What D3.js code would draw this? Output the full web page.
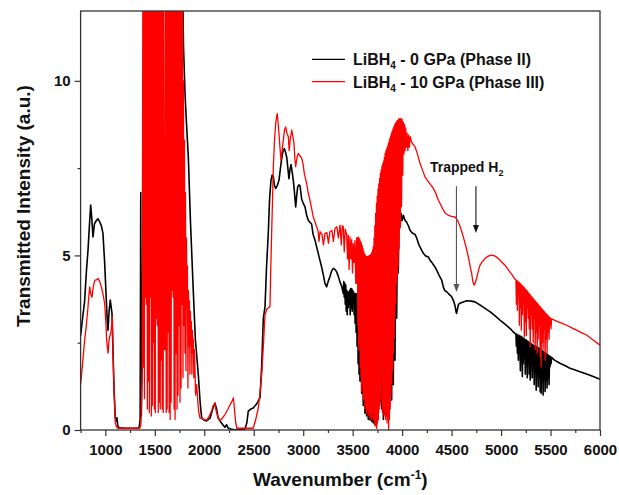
<!DOCTYPE html>
<html>
<head>
<meta charset="utf-8">
<script src="https://cdn.jsdelivr.net/npm/d3@7"></script>
<style>
  body { margin: 0; background: #fff; }
  text { font-family: "Liberation Sans", Arial, sans-serif; font-weight: bold; }
</style>
</head>
<body>
<div id="chart"></div>
<script>
// axis ticks
const xTicks = [1000, 1500, 2000, 2500, 3000, 3500, 4000, 4500, 5000, 5500, 6000];
const xMinor = [750, 1250, 1750, 2250, 2750, 3250, 3750, 4250, 4750, 5250, 5750];
const yTicks = [0, 5, 10];
const yMinor = [2.5, 7.5];

// LiBH4 - 0 GPa (Phase II), [wavenumber, intensity]
const phase2 = [
  [750,2.7],[770,3.2],[791,3.7],[810,4.6],[825,5.15],[840,5.9],[852,6.44],[862,6.1],[875,5.53],[890,5.9],
  [909,6.0],[925,6.05],[943,5.96],[960,5.85],[976,5.63],[993,4.8],[1010,3.72],[1020,3.1],[1027,2.86],[1038,3.4],
  [1050,3.72],[1060,3.5],[1067,3.35],[1078,2.2],[1088,1.14],[1101,0.34],[1110,0.25],[1118,0.35],[1126,0.12],[1140,0.06],
  [1200,0.05],[1300,0.05],[1340,0.05],[1352,0.3],[1358,6.8],[1364,0.4],[1372,2.0],[1384,8],[1395,14],[1775,14],
  [1790,11],[1806,9.6],[1820,8.8],[1839,7.8],[1860,6.0],[1889,3.98],[1910,2.6],[1940,1.58],[1958,0.8],[1974,0.34],
  [2000,0.28],[2024,0.26],[2060,0.35],[2085,0.6],[2108,0.77],[2125,0.6],[2140,0.35],[2159,0.26],[2190,0.14],[2210,0.08],
  [2226,0.15],[2240,0.06],[2270,0.03],[2310,0.0],[2360,0.02],[2410,0.02],[2430,0.2],[2445,0.54],[2470,0.6],[2495,0.63],
  [2530,0.75],[2563,0.92],[2580,1.8],[2597,3.2],[2614,3.53],[2630,4.7],[2647,5.63],[2660,6.6],[2674,7.15],[2686,7.3],
  [2698,7.25],[2710,7.0],[2722,6.92],[2738,7.0],[2755,7.15],[2770,7.5],[2783,7.78],[2797,8.0],[2809,8.06],[2822,7.95],
  [2833,7.82],[2845,7.5],[2856,7.2],[2866,7.45],[2877,7.6],[2888,7.4],[2900,7.15],[2912,6.8],[2924,6.39],[2934,6.7],
  [2944,6.96],[2956,7.02],[2968,7.0],[2985,6.6],[3000,6.5],[3018,6.39],[3035,6.15],[3051,6.01],[3068,5.95],[3085,5.9],
  [3100,5.6],[3119,5.44],[3135,5.25],[3152,5.06],[3170,4.85],[3186,4.67],[3203,4.45],[3220,4.2],[3237,4.1],[3252,4.25],
  [3270,4.39],[3287,4.55],[3304,4.63],[3320,4.6],[3338,4.53],[3355,4.4],[3372,4.24],[3390,4.1],
  [3405,3.91],[3410,4.25],[3415,3.8],[3420,4.2],[3425,3.6],[3430,4.15],[3435,3.4],[3440,4.0],[3445,3.3],[3450,3.95],
  [3455,3.5],[3460,3.95],[3465,3.6],[3470,4.0],[3475,3.3],[3480,4.05],[3485,3.5],[3490,4.05],[3495,3.4],[3500,4.0],
  [3505,3.6],[3510,3.95],[3515,3.3],[3520,3.9],[3525,3.06],[3530,3.9],[3535,2.8],[3540,3.9],[3545,2.4],[3550,3.85],
  [3555,1.9],[3560,3.8],[3565,1.6],[3570,3.8],[3574,1.4],[3582,3.7],
  [3591,1.05],[3599,3.6],[3607,0.7],[3615,3.5],[3624,0.48],[3632,3.5],[3641,0.4],[3649,3.5],[3658,0.3],[3666,3.5],
  [3675,0.29],[3683,3.5],[3692,0.25],[3700,3.5],[3708,0.2],[3716,3.5],[3725,0.14],[3733,3.6],[3742,0.3],[3750,3.8],
  [3760,0.5],[3768,4.0],[3776,0.8],[3785,4.2],[3793,0.6],[3801,4.4],[3810,0.3],[3818,4.6],[3826,0.45],[3835,4.8],
  [3843,0.6],[3851,5.0],[3860,0.9],[3868,5.2],[3877,1.0],[3885,5.4],[3894,0.86],[3902,5.6],[3911,1.3],[3919,5.8],
  [3928,2.0],[3936,6.0],[3945,3.2],[3953,6.3],[3961,4.5],[3970,6.35],[3978,5.8],[3990,6.2],[4000,6.0],[4012,6.15],
  [4029,6.01],[4046,5.95],[4063,5.85],[4080,5.72],[4100,5.65],[4130,5.6],[4147,5.5],[4170,5.3],[4197,5.15],[4214,5.06],
  [4240,4.98],[4264,4.96],[4281,4.87],[4300,4.8],[4332,4.67],[4349,4.58],[4370,4.45],[4400,4.29],[4416,4.1],[4430,4.0],
  [4450,3.96],[4470,3.9],[4500,3.82],[4520,3.7],[4535,3.55],[4545,3.38],[4551,3.34],[4558,3.45],[4570,3.6],[4584,3.63],
  [4610,3.66],[4652,3.7],[4700,3.69],[4736,3.67],[4787,3.58],[4820,3.52],[4860,3.44],[4888,3.39],[4940,3.27],[4988,3.15],
  [5040,3.03],[5089,2.91],[5120,2.82],[5140,2.77],
  [5150,2.75],[5155,2.4],[5160,2.74],[5165,2.2],[5170,2.72],[5175,2.0],[5180,2.71],[5185,2.3],[5190,2.69],[5195,1.7],
  [5200,2.68],[5205,2.1],[5210,2.66],[5215,1.53],[5220,2.64],[5225,1.9],[5230,2.62],[5235,2.2],[5240,2.6],[5245,1.6],
  [5250,2.58],[5255,1.9],[5260,2.56],[5265,1.5],[5270,2.54],[5275,2.0],[5280,2.52],[5285,1.6],[5290,2.5],[5295,1.43],
  [5300,2.48],[5305,1.9],[5310,2.46],[5315,1.5],[5320,2.44],[5325,1.8],[5330,2.42],[5335,1.3],[5340,2.41],[5345,1.7],
  [5350,2.39],[5355,1.14],[5360,2.38],[5365,1.6],[5370,2.36],[5375,1.24],[5380,2.35],[5385,1.5],[5390,2.33],[5395,1.1],
  [5400,2.32],[5405,1.05],[5410,2.29],[5415,1.4],[5420,2.27],[5425,1.0],[5430,2.24],[5435,1.5],[5440,2.22],[5445,1.1],
  [5450,2.2],[5455,1.43],[5460,2.18],[5465,1.2],[5470,2.16],[5475,1.5],[5480,2.14],[5485,1.3],[5490,2.12],[5495,1.81],
  [5500,2.1],[5505,1.9],[5510,2.08],
  [5540,2.0],[5595,1.91],[5650,1.84],[5696,1.77],[5750,1.72],[5797,1.67],[5850,1.62],[5898,1.57],[5950,1.51],[6000,1.45]
];

// LiBH4 - 10 GPa (Phase III)
const phase3 = [
  [750,1.3],[770,1.9],[791,2.58],[808,3.0],[825,3.53],[835,3.9],[842,4.1],[852,3.9],[865,3.8],[878,4.1],
  [893,4.29],[910,4.3],[926,4.34],[943,4.25],[960,4.1],[976,3.9],[993,3.63],[1005,3.1],[1013,2.6],[1020,2.38],
  [1028,2.2],[1036,2.55],[1044,2.67],[1052,2.75],[1060,2.86],[1066,3.1],[1071,3.24],[1078,2.2],[1088,1.14],[1101,0.2],
  [1115,0.08],[1128,0.05],[1250,0.05],[1347,0.05],[1360,0.15],[1372,1.8],
  [1380,14],[1385,1.8],[1390,14],[1395,0.9],[1400,14],[1405,3.8],[1410,14],[1415,3.6],[1420,14],[1425,0.6],
  [1430,14],[1435,1.4],[1440,14],[1445,0.5],[1450,14],[1455,3.8],[1460,14],[1465,0.4],[1470,14],[1475,0.7],
  [1480,14],[1485,2.5],[1490,14],[1495,0.6],[1500,14],[1505,0.5],[1510,14],[1515,3.2],[1520,14],[1525,3.0],
  [1530,14],[1535,0.5],[1540,14],[1545,0.8],[1550,14],[1555,0.6],[1560,14],[1565,2.0],[1570,14],[1575,0.6],
  [1580,14],[1585,0.5],[1590,14],[1596,2.3],[1603,2.3],[1609,14],[1615,0.5],[1620,14],[1625,0.6],[1630,14],
  [1635,2.8],[1640,14],[1645,0.5],[1650,14],[1655,0.3],[1660,14],[1665,0.8],[1670,14],[1675,4.0],[1680,14],
  [1685,3.8],[1690,14],[1695,0.6],[1700,14],[1705,0.3],[1710,14],[1715,2.2],[1720,14],[1725,0.6],[1730,14],
  [1735,1.0],[1740,14],[1745,3.0],[1750,14],[1755,0.8],[1760,14],[1765,1.2],[1770,14],[1775,3.6],[1780,12.5],
  [1785,1.5],[1790,10.0],[1795,3.0],[1800,8.3],[1805,2.2],[1810,6.8],[1815,1.7],[1820,5.5],[1825,3.5],[1830,4.7],
  [1835,1.2],[1840,4.0],[1845,2.4],[1850,3.7],[1855,1.6],[1860,3.4],[1865,2.4],[1870,3.1],[1875,1.6],[1880,2.85],
  [1885,2.2],[1890,2.6],[1895,1.5],[1900,2.3],
  [1905,1.9],[1912,1.0],[1923,1.3],[1935,0.8],[1945,0.5],[1957,0.34],[1975,0.35],[1995,0.3],[2024,0.28],[2050,0.4],
  [2075,0.55],[2090,0.7],[2108,0.77],[2120,0.55],[2140,0.35],[2159,0.26],[2185,0.35],[2210,0.45],[2240,0.6],[2265,0.75],
  [2285,0.85],[2294,0.92],[2305,0.6],[2318,0.2],[2330,0.05],[2400,0.05],[2495,0.05],[2520,0.3],[2546,0.63],[2565,1.1],
  [2580,1.58],[2597,2.4],[2614,3.3],[2630,3.45],[2648,3.5],[2664,3.53],[2672,4.6],[2681,5.63],[2690,6.6],[2698,7.54],
  [2710,8.3],[2722,8.78],[2730,8.95],[2738,9.06],[2746,8.8],[2755,8.5],[2765,8.1],[2775,7.73],[2787,8.0],[2799,8.3],
  [2811,8.6],[2823,8.68],[2836,8.5],[2850,8.39],[2858,8.0],[2868,8.3],[2884,8.59],[2896,8.4],[2907,8.2],[2915,7.8],
  [2924,7.54],[2937,7.8],[2950,7.92],[2968,7.85],[2985,7.78],[3000,7.6],[3011,7.35],[3023,7.2],[3035,7.06],[3050,6.8],
  [3068,6.58],[3085,6.35],[3102,6.1],[3120,5.95],[3136,5.82],[3150,5.7],[3160,5.4],[3170,5.68],[3190,5.6],[3205,5.3],
  [3220,5.63],[3240,5.65],[3255,5.35],[3270,5.68],[3290,5.72],[3305,5.4],[3321,5.77],[3340,5.82],[3355,5.5],[3372,5.87],
  [3385,5.3],[3395,5.85],[3405,5.82],[3415,5.1],[3425,5.75],[3439,5.6],[3448,4.9],[3456,5.58],[3464,4.6],[3473,5.53],
  [3481,4.9],[3490,5.45],[3498,4.5],[3506,5.34],[3514,4.8],[3523,5.42],[3531,4.2],
  [3540,5.5],[3544,4.2],[3548,5.5],[3552,3.0],[3556,5.52],[3560,2.3],[3564,5.5],[3568,2.5],[3572,5.45],[3576,1.8],
  [3580,5.4],[3584,1.5],[3588,5.35],[3592,1.1],[3596,5.28],[3600,1.3],[3604,5.2],[3608,0.86],[3612,5.12],[3616,0.9],
  [3620,5.04],[3624,0.6],[3628,5.0],[3632,0.7],[3636,4.97],[3640,0.48],[3644,4.97],[3648,0.6],[3652,4.97],[3656,0.4],
  [3660,4.98],[3664,0.5],[3668,4.99],[3672,0.35],[3676,5.0],[3680,0.5],[3684,5.03],[3688,0.3],[3692,5.08],[3696,0.4],
  [3700,5.15],[3704,0.29],[3708,5.25],[3712,0.5],[3716,5.5],[3720,0.15],[3724,5.85],[3728,0.3],[3732,6.2],[3736,0.1],
  [3740,6.5],[3744,0.04],[3748,6.7],[3752,0.2],[3756,6.9],[3760,0.3],[3764,7.05],[3768,0.6],[3772,7.2],[3776,0.7],
  [3780,7.35],[3784,0.86],[3788,7.45],[3792,3.0],[3796,7.55],[3800,0.5],[3804,7.62],[3808,0.6],[3812,7.7],[3816,0.4],
  [3820,7.8],[3824,0.5],[3828,7.92],[3832,0.3],[3836,8.0],[3840,0.4],[3844,8.05],[3848,0.2],[3852,8.12],[3856,0.3],
  [3860,8.2],[3864,0.0],[3868,8.27],[3872,0.3],[3876,8.35],[3880,0.6],[3884,8.42],[3888,1.0],[3892,8.5],[3896,1.34],
  [3900,8.56],[3904,1.7],[3908,8.62],[3912,2.2],[3916,8.68],[3920,2.6],[3924,8.74],[3928,3.24],[3932,8.78],[3936,3.6],
  [3940,8.82],[3944,4.2],[3948,8.85],[3952,4.4],[3956,8.87],[3960,4.67],[3964,8.9],[3970,5.2],[3976,8.92],[3982,5.8],
  [3988,8.92],[3994,6.4],[4000,8.9],[4006,7.3],[4012,8.82],[4018,7.9],[4024,8.75],[4030,8.0],[4036,8.65],[4042,8.1],
  [4050,8.5],[4058,8.0],[4066,8.45],[4074,8.1],[4082,8.4],[4090,8.3],[4105,8.2],[4130,8.11],[4155,7.9],[4181,7.63],
  [4205,7.45],[4231,7.25],[4264,7.11],[4290,7.02],[4315,6.92],[4340,6.78],[4366,6.58],[4390,6.45],[4416,6.3],[4440,6.2],
  [4467,6.15],[4500,6.12],[4534,6.1],[4550,6.05],[4568,5.96],[4590,5.8],[4618,5.53],[4645,5.25],[4669,4.96],[4690,4.65],
  [4703,4.48],[4715,4.25],[4727,4.15],[4740,4.22],[4753,4.34],[4770,4.55],[4787,4.72],[4810,4.82],[4837,4.91],[4870,4.98],
  [4905,5.01],[4940,4.98],[4972,4.91],[5005,4.82],[5039,4.72],[5065,4.62],[5089,4.53],[5110,4.45],[5123,4.39],[5140,4.32],
  [5150,4.3],[5155,3.6],[5160,4.28],[5165,3.43],[5170,4.26],[5175,3.9],[5180,4.23],[5185,3.0],[5190,4.21],[5195,3.5],
  [5200,4.18],[5205,2.86],[5210,4.15],[5215,3.3],[5220,4.12],[5225,3.6],[5230,4.09],[5235,2.67],[5240,4.06],[5245,3.1],
  [5250,4.03],[5255,2.7],[5260,4.0],[5265,3.5],[5270,3.96],[5275,3.2],[5280,3.92],[5285,2.9],[5290,3.89],[5295,2.38],
  [5300,3.85],[5305,3.3],[5310,3.82],[5315,2.9],[5320,3.78],[5325,2.5],[5330,3.75],[5335,3.2],[5340,3.71],[5345,2.3],
  [5350,3.68],[5355,2.8],[5360,3.65],[5365,2.2],[5370,3.62],[5375,2.6],[5380,3.58],[5385,3.0],[5390,3.55],[5395,2.1],
  [5400,3.52],[5405,1.81],[5410,3.48],[5415,2.5],[5420,3.45],[5425,2.3],[5430,3.42],[5435,2.9],[5440,3.38],[5445,2.0],
  [5450,3.35],[5455,2.6],[5460,3.32],[5465,2.2],[5470,3.29],[5475,2.8],[5480,3.26],[5485,2.6],[5490,3.23],[5495,3.0],
  [5500,3.2],[5505,2.9],[5510,3.18],
  [5561,3.12],[5610,3.06],[5662,3.0],[5710,2.93],[5763,2.86],[5810,2.79],[5864,2.72],[5930,2.58],[6000,2.43]
];

const width = 619, height = 495;
const margin = {top: 11, right: 19, bottom: 65, left: 80.6};
const w = width - margin.left - margin.right;
const h = height - margin.top - margin.bottom;

const svg = d3.select("#chart").append("svg")
    .attr("width", width)
    .attr("height", height)
  .append("g")
    .attr("transform", "translate(" + margin.left + "," + margin.top + ")");

const x = d3.scaleLinear().domain([750, 6000]).range([0, w]);
const y = d3.scaleLinear().domain([0, 12]).range([h, 0]);

svg.append("clipPath").attr("id", "plot-clip")
  .append("rect").attr("width", w).attr("height", h);

const line = d3.line().x(d => x(d[0])).y(d => y(d[1]));

const lines = svg.append("g").attr("clip-path", "url(#plot-clip)");
lines.append("path").datum(phase2)
    .attr("fill", "none").attr("stroke", "#000").attr("stroke-width", 1.6)
    .attr("stroke-linejoin", "round").attr("d", line);
lines.append("path").datum(phase3)
    .attr("fill", "none").attr("stroke", "#ff0000").attr("stroke-width", 1.3)
    .attr("stroke-linejoin", "round").attr("d", line);

// axes
svg.append("g").attr("transform", "translate(0," + h + ")")
    .call(d3.axisBottom(x).tickValues(xTicks).tickSize(6).tickPadding(8.3).tickFormat(d3.format("d")));
svg.append("g").attr("transform", "translate(0," + h + ")")
    .call(d3.axisBottom(x).tickValues(xMinor).tickSize(3).tickFormat(""));
svg.append("g")
    .call(d3.axisLeft(y).tickValues(yTicks).tickSize(6).tickPadding(4).tickFormat(d3.format("d")));
svg.append("g")
    .call(d3.axisLeft(y).tickValues(yMinor).tickSize(3).tickFormat(""));
svg.selectAll(".domain").remove();
svg.selectAll(".tick line").attr("stroke", "#333").attr("stroke-width", 1.2);
svg.selectAll(".tick text")
    .style("font-size", "15px").style("font-family", "Liberation Sans, Arial, sans-serif")
    .style("font-weight", "bold").attr("fill", "#111");

// frame
svg.append("rect").attr("width", w).attr("height", h)
    .attr("fill", "none").attr("stroke", "#333").attr("stroke-width", 1.3);

// axis titles
const xt = svg.append("text")
    .attr("x", w / 2).attr("y", h + 56)
    .attr("text-anchor", "middle").style("font-size", "19px").attr("fill", "#111");
xt.append("tspan").text("Wavenumber (cm");
xt.append("tspan").attr("dy", "-7").style("font-size", "12px").text("-1");
xt.append("tspan").attr("dy", "7").text(")");

svg.append("text")
    .attr("transform", "translate(" + (29.5 - margin.left) + "," + (206 - margin.top) + ") rotate(-90)")
    .attr("text-anchor", "middle").style("font-size", "19px").attr("fill", "#111")
    .text("Transmitted Intensity (a.u.)");

// legend
const legend = [
  {name: "0 GPa (Phase II)", color: "#000", ly: 59.3},
  {name: "10 GPa (Phase III)", color: "#ff0000", ly: 81.7}
];
legend.forEach(d => {
  const gy = d.ly - margin.top;
  svg.append("line")
      .attr("x1", 312 - margin.left).attr("x2", 345 - margin.left)
      .attr("y1", gy).attr("y2", gy)
      .attr("stroke", d.color).attr("stroke-width", 1.3);
  const t = svg.append("text")
      .attr("x", 353 - margin.left).attr("y", gy + 5.8)
      .style("font-size", "16px").attr("fill", "#111");
  t.append("tspan").text("LiBH");
  t.append("tspan").attr("dy", 4).style("font-size", "10px").text("4");
  t.append("tspan").attr("dy", -4).text(" - " + d.name);
});

// annotation
const ann = svg.append("text")
    .attr("x", x(4281)).attr("y", y(7.38))
    .style("font-size", "14px").attr("fill", "#111");
ann.append("tspan").text("Trapped H");
ann.append("tspan").attr("dy", 4).style("font-size", "9px").text("2");

const arrows = [
  {w: 4549, top: 6.98, tip: 3.95, color: "#555"},
  {w: 4746, top: 6.98, tip: 5.64, color: "#111"}
];
arrows.forEach(a => {
  const ax = x(a.w), ty = y(a.tip);
  svg.append("line")
      .attr("x1", ax).attr("x2", ax).attr("y1", y(a.top)).attr("y2", ty - 6)
      .attr("stroke", a.color).attr("stroke-width", 1.1);
  svg.append("path")
      .attr("d", "M" + (ax - 3) + "," + (ty - 8) + "L" + (ax + 3) + "," + (ty - 8) + "L" + ax + "," + ty + "Z")
      .attr("fill", a.color);
});
</script>
</body>
</html>
